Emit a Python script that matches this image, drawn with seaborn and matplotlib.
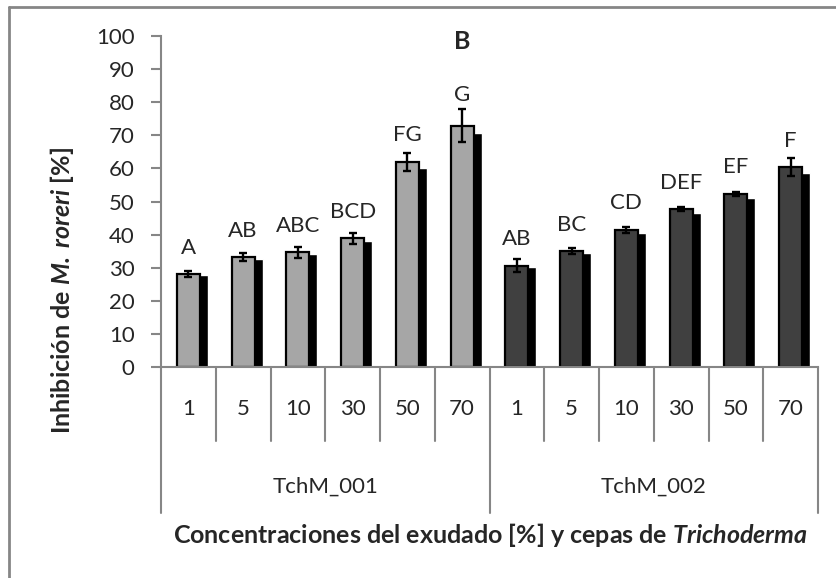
import numpy as np
import pandas as pd
import matplotlib
matplotlib.use("Agg")
import matplotlib.pyplot as plt
import seaborn as sns
from matplotlib.lines import Line2D

# values
concentrations = ["1", "5", "10", "30", "50", "70"]
strains = ["TchM_001", "TchM_002"]
inhib_001 = [28.1, 33.1, 34.6, 38.9, 62.0, 72.9]
err_001 = [1.0, 1.2, 1.8, 1.7, 2.7, 5.0]
inhib_002 = [30.6, 35.0, 41.4, 47.7, 52.3, 60.4]
err_002 = [1.9, 0.85, 0.95, 0.5, 0.5, 2.8]
letters_001 = ["A", "AB", "ABC", "BCD", "FG", "G"]
letters_002 = ["AB", "BC", "CD", "DEF", "EF", "F"]

df = pd.DataFrame({
    "strain": [strains[0]] * 6 + [strains[1]] * 6,
    "conc": concentrations * 2,
    "value": inhib_001 + inhib_002,
    "err": err_001 + err_002,
    "letter": letters_001 + letters_002,
})
df["key"] = df["strain"] + "|" + df["conc"]

sns.set_style("white")
plt.rcParams["font.family"] = ["Lato", "DejaVu Sans"]
plt.rcParams["mathtext.fontset"] = "custom"
plt.rcParams["mathtext.it"] = "Lato:italic"
plt.rcParams["mathtext.bfit"] = "Lato:italic:bold"

GRAY = "#868686"
W, H = 836, 578
FS = 16

fig = plt.figure(figsize=(W / 100, H / 100), dpi=100)
ax = fig.add_axes([161 / W, 1 - 367 / H, 657 / W, 331 / H])

sns.barplot(data=df, x="key", y="value", hue="strain", palette=["#A6A6A6", "#404040"],
            dodge=False, width=0.42, edgecolor="black", linewidth=1.6,
            errorbar=None, legend=False, ax=ax, zorder=2)

pos = np.arange(len(df))
# drop shadow behind each bar (Excel style)
shadow = df["value"] * 0.955 + 0.96
ax.bar(pos + 0.146, shadow, width=0.42, color="black", zorder=1)

ax.errorbar(pos, df["value"], yerr=df["err"], fmt="none", ecolor="black",
            elinewidth=1.7, capsize=3, capthick=1.7, zorder=3)

for i, row in df.iterrows():
    y = max(row["value"] + 8, row["value"] + row["err"] + 4.3)
    ax.text(i, y, row["letter"], ha="center", va="center", fontsize=FS)

ax.text(5, 98.3, "B", ha="center", va="center", fontsize=18, fontweight="bold")

ax.set_xlim(-0.5, 11.5)
ax.set_ylim(0, 100)
ax.set_yticks(range(0, 101, 10))
ax.set_xticks([])
ax.set_xlabel("")
ax.set_ylabel("")
ax.tick_params(axis="y", length=7, width=1.5, color=GRAY, labelsize=FS, pad=12, left=True)
for s in ["top", "right"]:
    ax.spines[s].set_visible(False)
for s in ["left", "bottom"]:
    ax.spines[s].set_color(GRAY)
    ax.spines[s].set_linewidth(1.5)

# two-level category axis
tr = ax.get_xaxis_transform()
lvl1 = (367 - 441) / 331
lvl2 = (367 - 513) / 331
for k in range(1, 12):
    if k == 6:
        continue
    ax.plot([k - 0.5, k - 0.5], [0, lvl1], color=GRAY, lw=1.5, transform=tr, clip_on=False)
for xb in [-0.5, 5.5, 11.5]:
    ax.plot([xb, xb], [0, lvl2], color=GRAY, lw=1.5, transform=tr, clip_on=False)
for i, c in enumerate(df["conc"]):
    ax.text(i, (367 - 409) / 331, c, ha="center", va="center", fontsize=FS, transform=tr)
for j, s in enumerate(strains):
    ax.text(2.5 + 6 * j, (367 - 487) / 331, s, ha="center", va="center", fontsize=FS, transform=tr)

fig.text(490 / W, 1 - 543 / H, r"Concentraciones del exudado [%] y cepas de $\mathbfit{Trichoderma}$",
         ha="center", va="baseline", fontsize=18, fontweight="bold")
fig.text(62 / W, 1 - 290 / H, r"Inhibición de $\mathbfit{M.}$ $\mathbfit{roreri}$ [%]",
         ha="center", va="center", rotation=90, fontsize=18, fontweight="bold")

# chart frame (left and top edges visible in the crop)
fig.add_artist(Line2D([9 / W, 9 / W], [0, 1 - 7 / H], color=GRAY, lw=2))
fig.add_artist(Line2D([9 / W, 1], [1 - 7 / H, 1 - 7 / H], color=GRAY, lw=2))

fig.savefig("out.png", dpi=100)
